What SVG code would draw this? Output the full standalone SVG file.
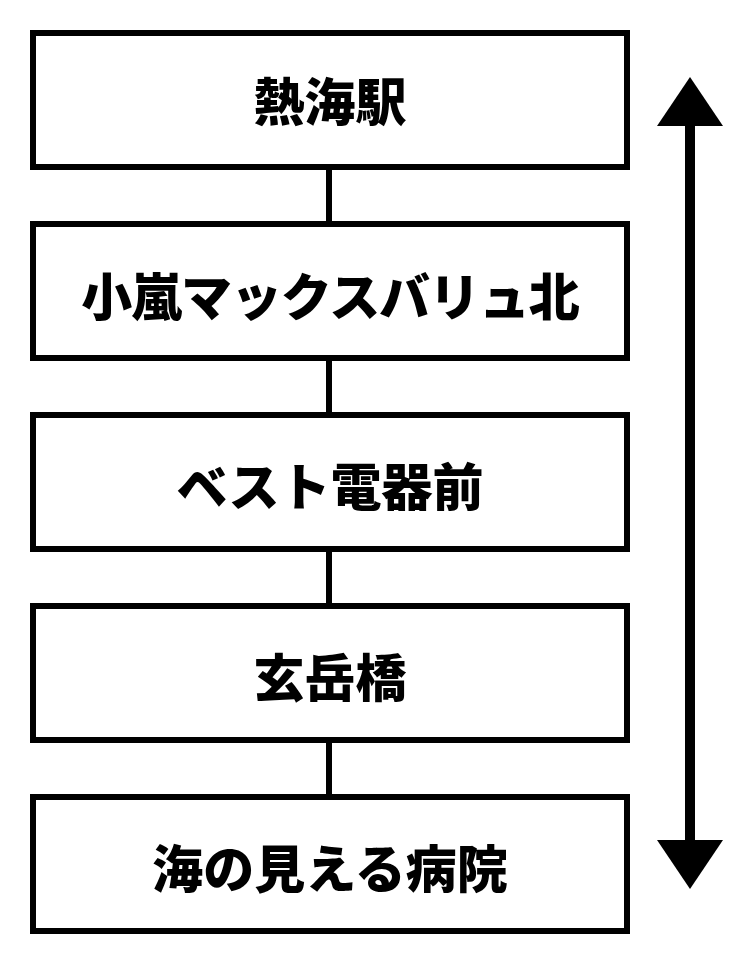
<svg xmlns="http://www.w3.org/2000/svg" width="750" height="965" viewBox="0 0 750 965">
<style>
.box{fill:#fff;stroke:#000;stroke-width:6}
.lbl{font-family:"Noto Sans CJK JP","Noto Sans CJK SC",sans-serif;font-weight:900;font-size:51px;fill:#000;text-anchor:middle;dominant-baseline:central}
.conn{stroke:#000;stroke-width:6;fill:none}
</style>
<rect width="750" height="965" fill="#fff"/>
<g id="connectors">
<line class="conn" x1="329" y1="167" x2="329" y2="224"/>
<line class="conn" x1="329" y1="358" x2="329" y2="415"/>
<line class="conn" x1="329" y1="549" x2="329" y2="606"/>
<line class="conn" x1="329" y1="740" x2="329" y2="797"/>
</g>
<g id="node1"><rect class="box" x="33" y="33" width="594" height="134"/><text class="lbl" x="330" y="99">熱海駅</text></g>
<g id="node2"><rect class="box" x="33" y="224" width="594" height="134"/><text class="lbl" x="330" y="294" letter-spacing="-1.1">小嵐マックスバリュ北</text></g>
<g id="node3"><rect class="box" x="33" y="415" width="594" height="134"/><text class="lbl" x="330" y="484">ベスト電器前</text></g>
<g id="node4"><rect class="box" x="33" y="606" width="594" height="134"/><text class="lbl" x="330" y="675">玄岳橋</text></g>
<g id="node5"><rect class="box" x="33" y="797" width="594" height="134"/><text class="lbl" x="330" y="866">海の見える病院</text></g>
<g id="arrow">
<line x1="690" y1="120" x2="690" y2="846" stroke="#000" stroke-width="10"/>
<polygon points="690,77 723,126 657,126" fill="#000"/>
<polygon points="690,889 723,840 657,840" fill="#000"/>
</g>
</svg>
